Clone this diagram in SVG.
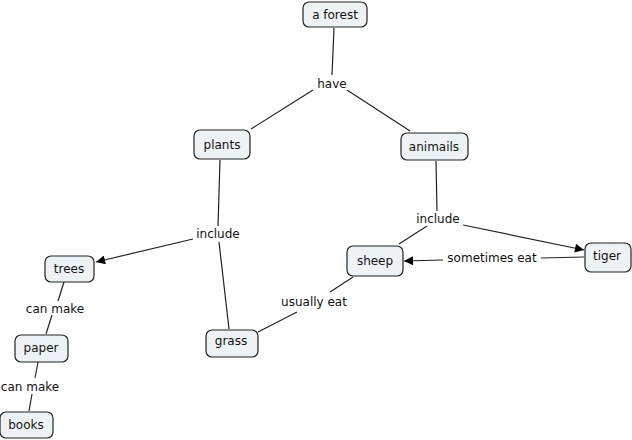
<svg xmlns="http://www.w3.org/2000/svg" width="632" height="440" viewBox="0 0 632 440">
<style>
.n rect{fill:#edf3f5;stroke:#222;stroke-width:1.2}
text{font-family:"DejaVu Sans",sans-serif;font-size:12px;fill:#111;text-anchor:middle}
.c line{stroke:#222;stroke-width:1.2}
</style>
<defs>
<marker id="ah" viewBox="0 0 10 10" refX="10" refY="5" markerWidth="11" markerHeight="9" markerUnits="userSpaceOnUse" orient="auto">
<path d="M0,0L10,5L0,10z" fill="#000"/>
</marker>
</defs>
<rect width="632" height="440" fill="#fff"/>
<g class="c">
<line x1="334" y1="28" x2="332" y2="75"/>
<line x1="313" y1="90" x2="251" y2="129"/>
<line x1="347" y1="90" x2="410" y2="131"/>
<line x1="220" y1="160" x2="218" y2="226"/>
<line x1="193" y1="239" x2="96" y2="262" marker-end="url(#ah)"/>
<line x1="219" y1="242" x2="229" y2="329"/>
<line x1="436" y1="161" x2="437" y2="211"/>
<line x1="427" y1="226" x2="399" y2="244"/>
<line x1="463" y1="225" x2="584" y2="250" marker-end="url(#ah)"/>
<line x1="584" y1="257" x2="541" y2="258"/>
<line x1="443" y1="260" x2="404" y2="261" marker-end="url(#ah)"/>
<line x1="353" y1="277" x2="330" y2="292"/>
<line x1="297" y1="312" x2="258" y2="332"/>
<line x1="64" y1="282" x2="58" y2="301"/>
<line x1="52" y1="315" x2="46" y2="334"/>
<line x1="38" y1="362" x2="35" y2="378"/>
<line x1="32" y1="394" x2="29" y2="411"/>
</g>
<g class="c-labels">
<text x="332" y="88">have</text>
<text x="218" y="238">include</text>
<text x="438" y="223">include</text>
<text x="55" y="313">can make</text>
<text x="30" y="391">can make</text>
<text x="314" y="306">usually eat</text>
<text x="492" y="262">sometimes eat</text>
</g>
<g id="n-forest" class="n"><rect x="303" y="2" width="64" height="25" rx="6"/><text x="335" y="19">a forest</text></g>
<g id="n-plants" class="n"><rect x="194" y="130" width="56" height="29" rx="6"/><text x="222" y="149">plants</text></g>
<g id="n-animails" class="n"><rect x="401" y="133" width="67" height="27" rx="6"/><text x="434" y="151">animails</text></g>
<g id="n-trees" class="n"><rect x="45" y="256" width="49" height="26" rx="6"/><text x="69" y="273">trees</text></g>
<g id="n-paper" class="n"><rect x="15" y="335" width="53" height="27" rx="6"/><text x="41" y="352">paper</text></g>
<g id="n-books" class="n"><rect x="0" y="412" width="53" height="26" rx="6"/><text x="26" y="429">books</text></g>
<g id="n-grass" class="n"><rect x="206" y="330" width="52" height="27" rx="6"/><text x="231" y="345">grass</text></g>
<g id="n-sheep" class="n"><rect x="347" y="246" width="56" height="30" rx="6"/><text x="375" y="265">sheep</text></g>
<g id="n-tiger" class="n"><rect x="585" y="243" width="46" height="29" rx="6"/><text x="607" y="260">tiger</text></g>
</svg>
